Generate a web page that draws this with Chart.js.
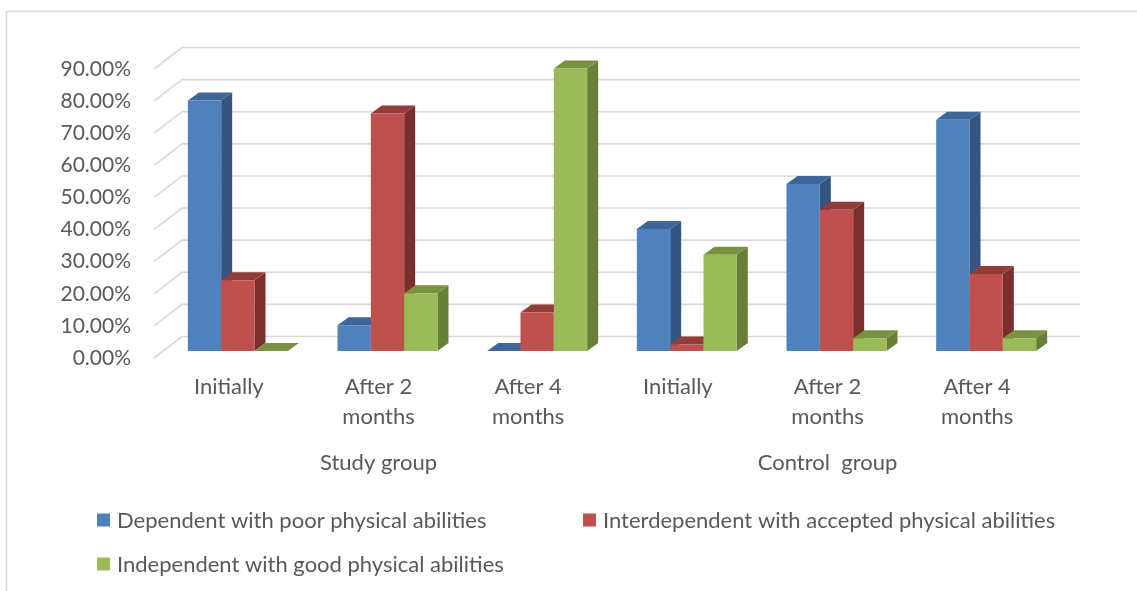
<!DOCTYPE html>
<html>
<head>
<meta charset="utf-8">
<script src="https://cdn.jsdelivr.net/npm/chart.js@4/dist/chart.umd.min.js"></script>
<style>
  html, body { margin: 0; padding: 0; background: #ffffff; }
  #wrap { position: relative; width: 1137px; height: 591px; }
  canvas { display: block; }
</style>
</head>
<body>
<div id="wrap"><canvas id="chart" width="1137" height="591"></canvas></div>
<script>
// Time points within each group (two-line labels) and the two groups below them
const timepoints = [['Initially'], ['After 2', 'months'], ['After 4', 'months'],
                    ['Initially'], ['After 2', 'months'], ['After 4', 'months']];
const groups = ['Study group', 'Control  group'];

// Share of patients in each category (fractions)
const dependentPoor          = [0.78, 0.08, 0.00, 0.38, 0.52, 0.72];
const interdependentAccepted = [0.22, 0.74, 0.12, 0.02, 0.44, 0.24];
const independentGood        = [0.00, 0.18, 0.88, 0.30, 0.04, 0.04];

const seriesNames = ['Dependent with poor physical abilities',
                     'Interdependent with accepted physical abilities',
                     'Independent with good physical abilities'];

// Value axis range
const yMin = 0, yMax = 0.9, yStep = 0.1;

const FONT = 'Lato, "Open Sans", sans-serif';
const TEXT = '#595959';
const GRID = '#d9d9d9';

// front, side and top face colours of each series
const palette = [
  { front: '#4f81bd', side: '#33557f', top: '#3e6697' },
  { front: '#c0504d', side: '#7b2f2d', top: '#943c3a' },
  { front: '#9bbb59', side: '#677f37', top: '#789241' }
];

// Oblique projection used for the floor/walls and for the bar prisms
const WALL_DEPTH = { x: 28, y: -21.5 };
const BAR_SHIFT  = { x: 9,  y: -7 };
const BAR_DEPTH  = { x: 11, y: -8 };

function poly(ctx, pts, color) {
  ctx.beginPath();
  ctx.moveTo(pts[0][0], pts[0][1]);
  for (let i = 1; i < pts.length; i++) ctx.lineTo(pts[i][0], pts[i][1]);
  ctx.closePath();
  ctx.fillStyle = color;
  ctx.fill();
}

const box3d = {
  id: 'box3d',
  beforeDraw(chart) {
    const ctx = chart.ctx;
    ctx.save();
    ctx.strokeStyle = GRID;
    ctx.lineWidth = 1.5;
    ctx.beginPath();
    ctx.moveTo(6.5, 591);
    ctx.lineTo(6.5, 11.5);
    ctx.lineTo(1137, 11.5);
    ctx.stroke();
    ctx.restore();
  },
  beforeDatasetsDraw(chart) {
    // side wall and back wall gridlines
    const { ctx, chartArea: a, scales: { y } } = chart;
    ctx.save();
    ctx.strokeStyle = GRID;
    ctx.lineWidth = 1.6;
    y.ticks.forEach(t => {
      const py = y.getPixelForValue(t.value);
      ctx.beginPath();
      ctx.moveTo(a.left, py);
      ctx.lineTo(a.left + WALL_DEPTH.x, py + WALL_DEPTH.y);
      ctx.lineTo(a.right + WALL_DEPTH.x, py + WALL_DEPTH.y);
      ctx.stroke();
    });
    ctx.restore();
  },
  beforeDatasetDraw() {
    // prisms are painted together afterwards, back to front
    return false;
  },
  afterDatasetsDraw(chart) {
    const ctx = chart.ctx;
    ctx.save();
    ctx.translate(BAR_SHIFT.x, BAR_SHIFT.y);
    chart.data.datasets.forEach((ds, i) => {
      const meta = chart.getDatasetMeta(i);
      const col = palette[i];
      meta.data.forEach(bar => {
        const p = bar.getProps(['x', 'y', 'width', 'base'], true);
        const l = p.x - p.width / 2, r = p.x + p.width / 2;
        const dx = BAR_DEPTH.x, dy = BAR_DEPTH.y;
        poly(ctx, [[r, p.y], [r + dx, p.y + dy], [r + dx, p.base + dy], [r, p.base]], col.side);
        poly(ctx, [[l, p.y], [r, p.y], [r + dx, p.y + dy], [l + dx, p.y + dy]], col.top);
        bar.draw(ctx, chart.chartArea);
      });
    });
    ctx.restore();
  },
  afterDraw(chart) {
    // legend
    const ctx = chart.ctx;
    const items = [
      { sx: 97,  cy: 520 },
      { sx: 583, cy: 520 },
      { sx: 97,  cy: 564 }
    ];
    ctx.save();
    ctx.font = '22px ' + FONT;
    ctx.textBaseline = 'middle';
    ctx.textAlign = 'left';
    items.forEach((it, i) => {
      ctx.fillStyle = palette[i].front;
      ctx.fillRect(it.sx, it.cy - 6.5, 13, 13);
      ctx.fillStyle = TEXT;
      ctx.fillText(seriesNames[i], it.sx + 20, it.cy + 1);
    });
    ctx.restore();
  }
};

new Chart(document.getElementById('chart'), {
  type: 'bar',
  data: {
    labels: timepoints,
    datasets: [
      { label: seriesNames[0], data: dependentPoor,          backgroundColor: palette[0].front, xAxisID: 'x', yAxisID: 'y' },
      { label: seriesNames[1], data: interdependentAccepted, backgroundColor: palette[1].front, xAxisID: 'x', yAxisID: 'y' },
      { label: seriesNames[2], data: independentGood,        backgroundColor: palette[2].front, xAxisID: 'x', yAxisID: 'y' }
    ]
  },
  options: {
    responsive: false,
    animation: false,
    devicePixelRatio: 1,
    events: [],
    layout: { padding: { left: 0, top: 69, right: 85, bottom: 103 } },
    datasets: { bar: { barPercentage: 1, categoryPercentage: 0.668, borderWidth: 0, clip: false } },
    plugins: { legend: { display: false }, tooltip: { enabled: false } },
    scales: {
      x: {
        type: 'category',
        position: 'bottom',
        weight: 0,
        grid: { display: false, drawTicks: false },
        border: { display: false },
        ticks: {
          autoSkip: false, maxRotation: 0, minRotation: 0, padding: 14,
          color: TEXT, font: { family: FONT, size: 22, lineHeight: '30px' }
        },
        afterFit(s) { s.height = 90; }
      },
      x2: {
        type: 'category',
        axis: 'x',
        position: 'bottom',
        weight: 1,
        labels: groups,
        offset: true,
        grid: { display: false, drawTicks: false },
        border: { display: false },
        ticks: {
          autoSkip: false, maxRotation: 0, minRotation: 0, padding: 4,
          color: TEXT, font: { family: FONT, size: 22, lineHeight: '22px' }
        },
        afterFit(s) { s.height = 40; }
      },
      y: {
        type: 'linear',
        position: 'left',
        min: yMin,
        max: yMax,
        grid: { display: false, drawTicks: false },
        border: { display: false },
        ticks: {
          stepSize: yStep, padding: 23, color: TEXT,
          font: { family: FONT, size: 21 },
          callback: v => (v * 100).toFixed(2) + '%'
        },
        afterFit(s) { s.width = 154; }
      }
    }
  },
  plugins: [box3d]
});
</script>
</body>
</html>
